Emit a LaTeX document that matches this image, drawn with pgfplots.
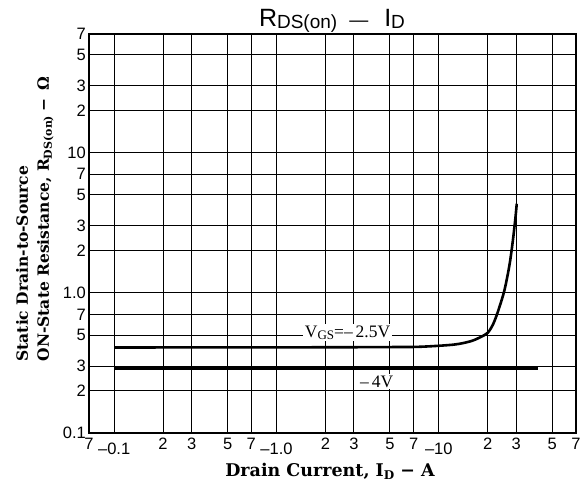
\documentclass[border=0pt]{standalone}
\usepackage{fontspec}
\setmainfont{Liberation Sans}
\newfontfamily\labfont{DejaVu Serif}
\newfontfamily\curvefont{Liberation Serif}
\usepackage{pgfplots}
\pgfplotsset{compat=1.18}

% lowered tick label (the decade labels sit a bit lower)
\newcommand\low[1]{\raisebox{-5pt}{#1}}
% subscript at a given size, lowered by a given amount
\newcommand\sub[3]{\raisebox{-#2}{\fontsize{#1}{#1}\selectfont #3}}

\begin{document}
\begin{tikzpicture}
\path[use as bounding box] (-89pt,-51pt) rectangle (498pt,433pt);
\begin{axis}[
    at={(0,0)}, anchor=south west,
    scale only axis,
    width=487pt, height=399pt,
    xmode=log, ymode=log,
    xmin=0.07, xmax=70,
    ymin=0.1, ymax=70,
    xtick={0.07,0.1,0.2,0.3,0.5,0.7,1,2,3,5,7,10,20,30,50,70},
    xticklabels={7,\low{–0.1},2,3,5,7,\low{–1.0},2,3,5,7,\low{–10},2,3,5,7},
    ytick={0.1,0.2,0.3,0.5,0.7,1,2,3,5,7,10,20,30,50,70},
    yticklabels={0.1,2,3,5,7,1.0,2,3,5,7,10,2,3,5,7},
    minor xtick={}, minor ytick={},
    major tick length=0pt,
    grid=major,
    major grid style={black, line width=0.9pt},
    axis line style={black, line width=1.3pt},
    tick label style={font=\fontsize{16.5}{16.5}\selectfont, inner sep=0pt},
    x tick label style={anchor=north, text height=12pt, yshift=-4pt},
    y tick label style={anchor=east, xshift=-3pt},
    clip=false,
]
% V_GS = -2.5 V
\addplot[black, line width=2.6pt, smooth] coordinates {
    (0.1,0.407) (0.5,0.408) (1,0.408) (3,0.409) (5,0.410) (7.7,0.412)
    (12.4,0.427) (15.8,0.452) (18.2,0.485) (20,0.518) (21.5,0.59)
    (23,0.72) (25.3,1.03) (27.2,1.56) (28.5,2.29) (29.6,3.36) (30.2,4.31)
};
% V_GS = -4 V
\addplot[black, line width=2.4pt] coordinates {
    (0.1,0.288) (40.7,0.288)
};
\node[fill=white, inner sep=1.5pt, font=\curvefont\fontsize{17.5}{18}\selectfont]
    at (axis cs:2.74,0.52) {V\sub{13}{2.5pt}{GS}=–\,2.5V};
\node[fill=white, inner sep=1.5pt, font=\curvefont\fontsize{17.5}{18}\selectfont]
    at (axis cs:4.14,0.232) {–\,4V};
\end{axis}
% title
\node[anchor=base] at (243pt,406pt)
    {\fontsize{25}{25}\selectfont R\sub{19}{1.5pt}{DS(on)}\hspace{12pt}{\fontsize{19}{19}\selectfont —}\hspace{16pt}I\sub{19}{1.5pt}{D}};
% x label
\node[anchor=base] at (241pt,-44pt)
    {\labfont\bfseries\fontsize{17.5}{17.5}\selectfont Drain Current, I\sub{12}{3pt}{D} − A};
% y label, two lines starting at the same height
\node[rotate=90, anchor=base west] at (-61pt,68pt)
    {\labfont\bfseries\fontsize{15.5}{15.5}\selectfont Static Drain-to-Source};
\node[rotate=90, anchor=base west] at (-40pt,68pt)
    {\labfont\bfseries\fontsize{15.5}{15.5}\selectfont ON-State Resistance, R\sub{11}{3pt}{DS(on)}\hspace{4pt}−\hspace{8pt}Ω};
\end{tikzpicture}
\end{document}
